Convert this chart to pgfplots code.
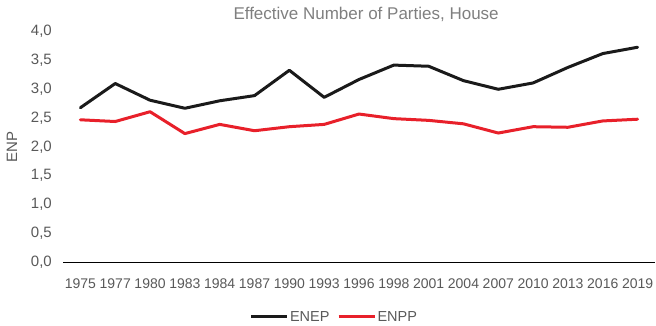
\documentclass[border=0pt]{standalone}
\usepackage{fontspec}
\setmainfont{Liberation Sans}
\usepackage{pgfplots}
\usepackage{pgfplotstable}
\pgfplotsset{compat=1.18}

\definecolor{enep}{HTML}{1A1A1A}
\definecolor{enpp}{HTML}{E8202A}
\definecolor{ticktext}{HTML}{595959}
\definecolor{titletext}{HTML}{7F7F7F}
\definecolor{baseline}{HTML}{D9D9D9}

% Effective number of electoral (ENEP) and parliamentary (ENPP) parties
\pgfplotstableread{
x year enep enpp
0  1975 2.68 2.47
1  1977 3.10 2.44
2  1980 2.81 2.61
3  1983 2.67 2.23
4  1984 2.80 2.39
5  1987 2.89 2.28
6  1990 3.33 2.35
7  1993 2.86 2.39
8  1996 3.17 2.57
9  1998 3.42 2.49
10 2001 3.40 2.46
11 2004 3.15 2.40
12 2007 3.00 2.24
13 2010 3.11 2.35
14 2013 3.38 2.34
15 2016 3.62 2.45
16 2019 3.73 2.48
}\enpdata

\begin{document}
\begin{tikzpicture}
\useasboundingbox (0pt,0pt) rectangle (656pt,325pt);
\begin{axis}[
  at={(63pt,63pt)}, anchor=south west,
  scale only axis, width=592pt, height=230.3pt,
  xmin=-0.5, xmax=16.5, ymin=0, ymax=4,
  axis x line*=bottom, axis y line*=left,
  y axis line style={draw=none},
  x axis line style={baseline, line width=0.9pt},
  major tick length=0pt,
  xtick={0,...,16},
  xticklabels from table={\enpdata}{year},
  ytick={0,0.5,1,1.5,2,2.5,3,3.5,4},
  tick label style={font=\fontsize{14}{16}\selectfont, text=ticktext},
  yticklabel style={anchor=east, inner sep=0pt, xshift=-11pt,
    font=\fontsize{15}{17}\selectfont,
    /pgf/number format/fixed, /pgf/number format/fixed zerofill,
    /pgf/number format/precision=1, /pgf/number format/use comma,
    /pgf/number format/assume math mode=true},
  xticklabel style={anchor=north, inner sep=0pt, yshift=-17pt},
  ylabel={ENP},
  ylabel style={at={(axis description cs:-0.0861,0.5)}, anchor=center,
    font=\fontsize{15}{17}\selectfont, text=ticktext},
  title={Effective Number of Parties, House},
  title style={at={(axis description cs:0.512,1.050)}, anchor=center,
    font=\fontsize{17}{19}\selectfont, text=titletext},
  legend style={at={(axis description cs:0.4578,-0.2388)}, anchor=center,
    draw=none, fill=none, legend columns=2,
    font=\fontsize{14.5}{16}\selectfont, text=ticktext,
    /tikz/every even column/.append style={column sep=6pt},
    nodes={inner sep=1.5pt}},
  legend image code/.code={\draw[#1, line width=3pt, line cap=butt] (0pt,0pt) -- (36pt,0pt);},
  clip=false,
]
\addplot[enep, line width=3pt, line join=round, line cap=round] table[x=x, y=enep] {\enpdata};
\addlegendentry{ENEP}
\addplot[enpp, line width=3pt, line join=round, line cap=round] table[x=x, y=enpp] {\enpdata};
\addlegendentry{ENPP}
\end{axis}
\end{tikzpicture}
\end{document}
